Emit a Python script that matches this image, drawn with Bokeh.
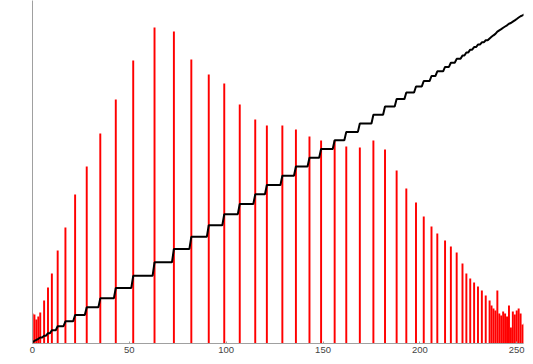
import numpy as np
from bokeh.plotting import figure
from bokeh.models import Range1d, FixedTicker
from bokeh.embed import file_html
from bokeh.resources import INLINE

# Histogram of an equalized 8-bit image: intensity levels that are populated and their counts
spike_bins = [0, 1, 2, 3, 4, 6, 8, 10, 13, 17, 22, 28, 35, 43, 52, 63, 73, 82, 91, 99,
              107, 115, 121, 129, 136, 143, 149, 156, 162, 169, 176, 182, 188, 193, 198,
              202, 206, 209, 213, 216, 219, 222, 224, 226, 228, 230, 232, 234, 236,
              237, 238, 239, 240, 241, 242, 243, 244, 245, 246, 247, 248, 249, 250,
              251, 252, 253, 254, 255]
spike_counts = [30, 29, 24, 27, 31, 43, 56, 70, 93, 116, 149, 177, 210, 244, 283, 316, 312, 284, 269, 260,
                239, 224, 218, 218, 214, 207, 203, 203, 197, 196, 203, 194, 173, 155, 141,
                127, 117, 110, 103, 97, 91, 80, 70, 65, 61, 57, 53, 48, 43,
                38, 35, 33, 53, 30, 28, 32, 30, 27, 38, 16, 32, 29, 33,
                35, 30, 19, 25, 20]
cdf_peak = 330          # normalized CDF top value (same units as counts)
x_ticks = [0, 50, 100, 150, 200, 250]

levels = np.arange(256)
hist = np.zeros(256)
hist[spike_bins] = spike_counts
cdf = np.cumsum(hist)
cdf_normalized = cdf * cdf_peak / cdf[-1]

p = figure(width=525, height=356,
           x_range=Range1d(0, 253.5), y_range=Range1d(0, 343),
           output_backend="svg", toolbar_location=None,
           min_border_left=32, min_border_right=2,
           min_border_top=0, min_border_bottom=13)

p.vbar(x=levels, top=hist, width=1.0, fill_color="#ff0000", line_color=None)
p.line(levels, cdf_normalized, line_color="black", line_width=2)

p.xgrid.visible = False
p.ygrid.visible = False
p.outline_line_color = None
p.background_fill_color = "white"
p.border_fill_color = "white"

p.xaxis.ticker = FixedTicker(ticks=x_ticks)
p.xaxis.axis_line_color = "#a0a0a0"
p.xaxis.axis_line_width = 1
p.xaxis.major_tick_in = 2
p.xaxis.major_tick_out = 0
p.xaxis.major_tick_line_color = "#a0a0a0"
p.xaxis.minor_tick_line_color = None
p.xaxis.major_label_standoff = 3
p.xaxis.major_label_text_font = "Liberation Sans"
p.xaxis.major_label_text_font_size = "9.5px"
p.xaxis.major_label_text_color = "#444444"

p.yaxis.ticker = FixedTicker(ticks=[])
p.yaxis.axis_line_color = "#a0a0a0"
p.yaxis.major_tick_line_color = None
p.yaxis.minor_tick_line_color = None
p.yaxis.major_label_text_font_size = "0px"

open("out.html", "w").write(file_html(p, INLINE))
